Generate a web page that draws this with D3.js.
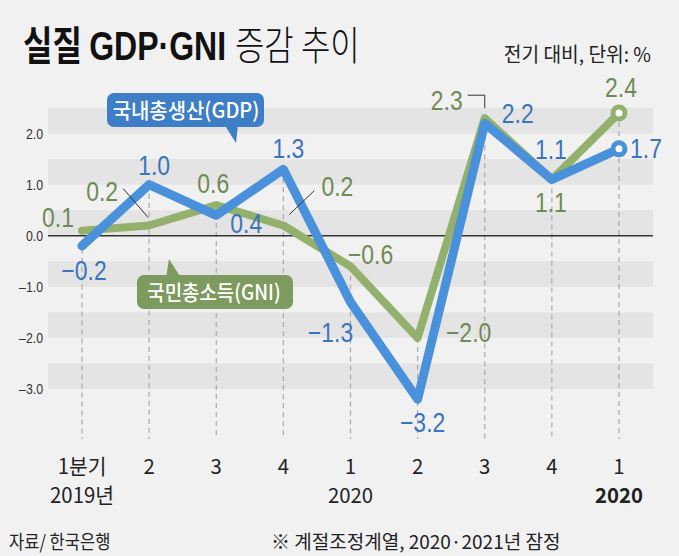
<!DOCTYPE html>
<html><head><meta charset="utf-8">
<script src="https://cdn.jsdelivr.net/npm/d3@7"></script>
<style>
html,body{margin:0;padding:0;background:#f1f1f1;}
svg{display:block;}
</style></head>
<body>
<script>
// ---- data ----
const categories = ["1분기","2","3","4","1","2","3","4","1"];
const yearLabels = ["2019년","","","","2020","","","","2020"];
const gdpValues = [-0.2, 1.0, 0.4, 1.3, -1.3, -3.2, 2.2, 1.1, 1.7];
const gniValues = [0.1, 0.2, 0.6, 0.2, -0.6, -2.0, 2.3, 1.1, 2.4];
const yTickValues = [2, 1, 0, -1, -2, -3];
const bandStarts = [2, 1, 0, -1, -2, -3];

// ---- layout ----
const W = 679, H = 556;
const KR = "'Noto Sans CJK KR','Noto Sans',sans-serif";
const NUM = "'Liberation Sans',Arial,sans-serif";
const C = {
  bg:"#f1f1f1", band:"#e4e4e4", zero:"#333",
  gdpLine:"#4a91dc", gdpText:"#3a74bd", gdpBox:"#3e7ec6",
  gniLine:"#93b06c", gniText:"#6f8b55", gniBox:"#7e9b5f",
  dash:"#a9a9a9", text:"#222"
};
// label offsets from the data point (dx: centre, dy: baseline)
const gdpLabelOff = [[2,34],[5,-10],[30,18],[5,-11],[-20,40],[5,33],[33,0],[-1,-21],[27,9]];
const gniLabelOff = [[-24,-4],[-47,-25],[-3,-12],[54,-30],[20,-2],[51,4],[-38,-8],[-1,32],[2,-16]];

const svg = d3.select("body").append("svg").attr("width",W).attr("height",H);
svg.append("rect").attr("width",W).attr("height",H).attr("fill",C.bg);

const x = d3.scalePoint().domain(d3.range(categories.length)).range([82,619]);
const y = d3.scaleLinear().domain([-3,2.5]).range([389,108]);
const plotL = 48, plotR = 653, axisBottom = 439;

function txt(p, tx, ty, s, o){
  return p.append("text")
    .attr("transform",`translate(${tx},${ty}) scale(${o.sx||1},1)`)
    .attr("text-anchor",o.anchor||"start")
    .style("font-family",o.font||KR)
    .style("font-size",o.size+"px")
    .style("font-weight",o.weight||400)
    .attr("fill",o.fill||C.text)
    .text(s);
}

// bands
svg.append("g").selectAll("rect").data(bandStarts).join("rect")
  .attr("x",plotL).attr("width",plotR-plotL)
  .attr("y",d=>y(d+0.5)).attr("height",d=>y(d)-y(d+0.5))
  .attr("fill",C.band);

// dashed verticals
svg.append("g").selectAll("line").data(categories).join("line")
  .attr("x1",(d,i)=>x(i)).attr("x2",(d,i)=>x(i))
  .attr("y1",(d,i)=>Math.min(y(gdpValues[i]),y(gniValues[i])))
  .attr("y2",axisBottom)
  .attr("stroke",C.dash).attr("stroke-width",1.2).attr("stroke-dasharray","5,4");

// zero line
svg.append("line").attr("x1",plotL).attr("x2",plotR).attr("y1",y(0)).attr("y2",y(0))
  .attr("stroke",C.zero).attr("stroke-width",1.3);

// y tick labels
yTickValues.forEach(v=>{
  const s = (v<0?"–":"")+Math.abs(v).toFixed(1);
  txt(svg,43,y(v)+5,s,{font:NUM,size:14,anchor:"end",sx:0.88,fill:"#333"});
});

// lines
const line = d3.line().x((d,i)=>x(i)).y(d=>y(d));
svg.append("path").datum(gniValues).attr("d",line).attr("fill","none")
  .attr("stroke",C.gniLine).attr("stroke-width",8).attr("stroke-linejoin","round").attr("stroke-linecap","round");
svg.append("path").datum(gdpValues).attr("d",line).attr("fill","none")
  .attr("stroke",C.gdpLine).attr("stroke-width",9).attr("stroke-linejoin","round").attr("stroke-linecap","round");

// end circles
const last = categories.length-1;
svg.append("circle").attr("cx",x(last)).attr("cy",y(gniValues[last])).attr("r",6)
  .attr("fill","#fff").attr("stroke",C.gniLine).attr("stroke-width",5);
svg.append("circle").attr("cx",x(last)).attr("cy",y(gdpValues[last])).attr("r",6)
  .attr("fill","#fff").attr("stroke",C.gdpLine).attr("stroke-width",5);

// leader lines for green labels
const lead = svg.append("g").attr("fill","none").attr("stroke","#333").attr("stroke-width",1);
lead.append("path").attr("d",`M${x(1)-26},${y(gniValues[1])-37} L${x(1)-1},${y(gniValues[1])-8}`);
lead.append("path").attr("d",`M${x(3)+6},${y(gniValues[3])-11} L${x(3)+31},${y(gniValues[3])-35}`);
lead.append("path").attr("d",`M${x(6)-17},${y(gniValues[6])-23} H${x(6)} V${y(gniValues[6])-10}`);

// value labels
const fmt = v => (v<0?"−":"")+Math.abs(v).toFixed(1);
gdpValues.forEach((v,i)=>{
  txt(svg,x(i)+gdpLabelOff[i][0],y(v)+gdpLabelOff[i][1],fmt(v),{font:NUM,size:28,anchor:"middle",sx:0.82,fill:C.gdpText});
});
gniValues.forEach((v,i)=>{
  txt(svg,x(i)+gniLabelOff[i][0],y(v)+gniLabelOff[i][1],fmt(v),{font:NUM,size:28,anchor:"middle",sx:0.82,fill:C.gniText});
});

// legend callouts
const lg = svg.append("g");
lg.append("polygon").attr("points","224,124 238,124 236,143").attr("fill",C.gdpBox);
lg.append("rect").attr("x",107).attr("y",93).attr("width",157).attr("height",34).attr("rx",7).attr("fill",C.gdpBox);
txt(lg,186,118,"국내총생산(GDP)",{size:21,anchor:"middle",sx:0.95,fill:"#fff",weight:500});
lg.append("polygon").attr("points","166,278 181,278 169,259").attr("fill",C.gniBox);
lg.append("rect").attr("x",137).attr("y",275).attr("width",156).attr("height",34).attr("rx",7).attr("fill",C.gniBox);
txt(lg,214,300,"국민총소득(GNI)",{size:21,anchor:"middle",sx:0.9,fill:"#fff",weight:500});

// x labels
categories.forEach((c,i)=>{
  txt(svg,x(i),474,c,{size:21,anchor:"middle",sx:0.97,fill:C.text});
  if(yearLabels[i]) txt(svg,x(i),503,yearLabels[i],{size:21,anchor:"middle",sx:0.97,fill:C.text,weight:i===last?700:400});
});

// title
const t = svg.append("text").attr("transform","translate(23,60) scale(0.8,1)")
  .style("font-size","40px").attr("fill","#111");
t.append("tspan").style("font-family",KR).style("font-weight",700).text("실질 ");
t.append("tspan").style("font-family",NUM).style("font-weight",700).text("GDP·GNI ");
t.append("tspan").style("font-family",KR).style("font-weight",300).text("증감 추이");

txt(svg,651,62,"전기 대비, 단위: %",{size:20,anchor:"end",sx:0.96,fill:C.text});

// footer
txt(svg,9,549,"자료/ 한국은행",{size:19,sx:0.87,fill:C.text});
txt(svg,271,549,"※ 계절조정계열, 2020·2021년 잠정",{size:19,sx:1.0,fill:C.text});
</script>
</body></html>
